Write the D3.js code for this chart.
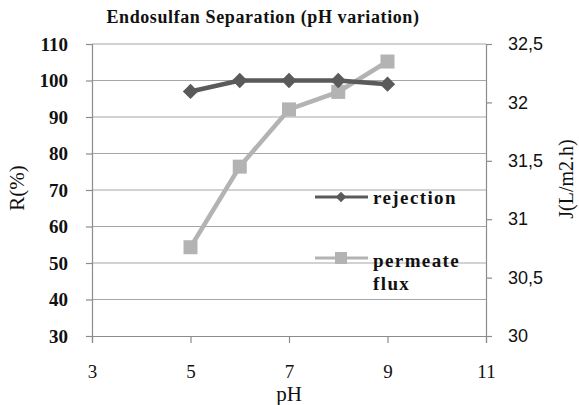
<html>
<head>
<script src="https://d3js.org/d3.v7.min.js"></script>
<style>
  body { margin: 0; background: #fff; }
  text { fill: #111; }
</style>
</head>
<body>
<script>
var ph = [5, 6, 7, 8, 9];
var rejection = [97, 100, 100, 100, 99];
var flux = [30.76, 31.45, 31.94, 32.09, 32.35];
var xTicks = [3, 5, 7, 9, 11];
var leftTicks = [30, 40, 50, 60, 70, 80, 90, 100, 110];
var rightTicks = [30, 30.5, 31, 31.5, 32, 32.5];

var W = 579, H = 405;
var svg = d3.select("body").append("svg").attr("width", W).attr("height", H);

var x = d3.scaleLinear().domain([3, 11]).range([92, 486]);
var yL = d3.scaleLinear().domain([30, 110]).range([336, 44]);
var yR = d3.scaleLinear().domain([30, 32.5]).range([336, 44]);

// gridlines
svg.append("g").selectAll("line").data(leftTicks.slice(1)).enter().append("line")
  .attr("x1", 92).attr("x2", 486)
  .attr("y1", yL).attr("y2", yL)
  .attr("stroke", "#a6a6a6").attr("stroke-width", 1.2);

// axes
var axL = svg.append("g").attr("transform", "translate(92,0)")
  .call(d3.axisLeft(yL).tickValues(leftTicks).tickSize(6).tickPadding(18));
var axR = svg.append("g").attr("transform", "translate(486,0)")
  .call(d3.axisRight(yR).tickValues(rightTicks).tickSize(6).tickPadding(16)
    .tickFormat(function (d) { return String(d).replace(".", ","); }));
var axB = svg.append("g").attr("transform", "translate(0,336)")
  .call(d3.axisBottom(x).tickValues(xTicks).tickSize(7).tickPadding(22));

[axL, axR, axB].forEach(function (a) {
  a.select(".domain").attr("stroke", "#8c8c8c").attr("stroke-width", 1.2);
  a.selectAll(".tick line").attr("stroke", "#8c8c8c").attr("stroke-width", 1.2);
});
axL.selectAll(".tick text").attr("font-family", "Liberation Serif").attr("font-weight", "bold")
  .attr("font-size", 19).attr("fill", "#111");
axB.selectAll(".tick text").attr("font-family", "Liberation Serif")
  .attr("font-size", 19).attr("fill", "#111");
axR.selectAll(".tick text").attr("font-family", "Liberation Sans")
  .attr("font-size", 18).attr("fill", "#111");

// series
var fluxLine = d3.line().x(function (d, i) { return x(ph[i]); }).y(function (d) { return yR(d); });
var rejLine = d3.line().x(function (d, i) { return x(ph[i]); }).y(function (d) { return yL(d); });

svg.append("path").datum(flux).attr("d", fluxLine)
  .attr("fill", "none").attr("stroke", "#b3b3b3").attr("stroke-width", 4.5);
svg.append("g").selectAll("rect").data(flux).enter().append("rect")
  .attr("x", function (d, i) { return x(ph[i]) - 7; })
  .attr("y", function (d) { return yR(d) - 7; })
  .attr("width", 14).attr("height", 14).attr("fill", "#b3b3b3");

svg.append("path").datum(rejection).attr("d", rejLine)
  .attr("fill", "none").attr("stroke", "#5a5a5a").attr("stroke-width", 4.5);
var diamond = d3.symbol().type(d3.symbolDiamond2).size(150);
svg.append("g").selectAll("path").data(rejection).enter().append("path")
  .attr("d", diamond)
  .attr("transform", function (d, i) { return "translate(" + x(ph[i]) + "," + yL(d) + ")"; })
  .attr("fill", "#5a5a5a");

// legend
var lg = svg.append("g");
lg.append("line").attr("x1", 315).attr("x2", 368).attr("y1", 197).attr("y2", 197)
  .attr("stroke", "#5a5a5a").attr("stroke-width", 3);
lg.append("path").attr("d", d3.symbol().type(d3.symbolDiamond2).size(70))
  .attr("transform", "translate(341,197)").attr("fill", "#5a5a5a");
lg.append("text").attr("x", 373).attr("y", 204).text("rejection")
  .attr("font-family", "Liberation Serif").attr("font-weight", "bold").attr("font-size", 19).attr("letter-spacing", 1.4);

lg.append("line").attr("x1", 315).attr("x2", 368).attr("y1", 258).attr("y2", 258)
  .attr("stroke", "#b3b3b3").attr("stroke-width", 3);
lg.append("rect").attr("x", 335).attr("y", 252).attr("width", 12).attr("height", 12).attr("fill", "#b3b3b3");
lg.append("text").attr("x", 373).attr("y", 267).text("permeate")
  .attr("font-family", "Liberation Serif").attr("font-weight", "bold").attr("font-size", 19).attr("letter-spacing", 1.4);
lg.append("text").attr("x", 373).attr("y", 290).text("flux")
  .attr("font-family", "Liberation Serif").attr("font-weight", "bold").attr("font-size", 19).attr("letter-spacing", 1.4);

// titles
svg.append("text").attr("x", 263).attr("y", 23).attr("text-anchor", "middle")
  .attr("font-family", "Liberation Serif").attr("font-weight", "bold").attr("font-size", 18)
  .attr("letter-spacing", 0.6)
  .text("Endosulfan Separation (pH variation)");
svg.append("text").attr("x", 289).attr("y", 401).attr("text-anchor", "middle")
  .attr("font-family", "Liberation Serif").attr("font-size", 21).text("pH");
svg.append("text").attr("transform", "translate(24,188) rotate(-90)").attr("text-anchor", "middle")
  .attr("font-family", "Liberation Serif").attr("font-size", 21).text("R(%)");
svg.append("text").attr("transform", "translate(573,179) rotate(-90)").attr("text-anchor", "middle")
  .attr("font-family", "Liberation Serif").attr("font-size", 20).text("J(L/m2.h)");
</script>
</body>
</html>
